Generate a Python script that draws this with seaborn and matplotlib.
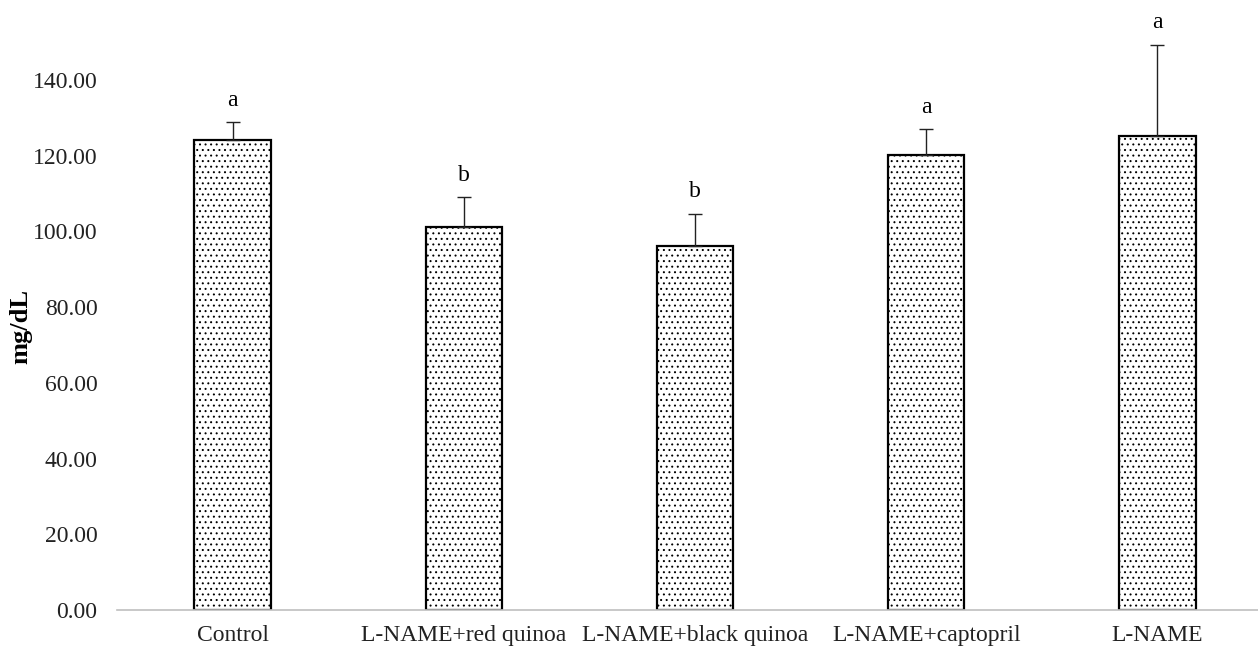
import matplotlib
matplotlib.use("Agg")
import matplotlib.pyplot as plt
import seaborn as sns
import pandas as pd
import numpy as np

groups = ["Control", "L-NAME+red quinoa", "L-NAME+black quinoa", "L-NAME+captopril", "L-NAME"]
means = [124.0, 101.1, 96.0, 120.2, 125.3]
sds = [4.8, 7.9, 8.7, 6.8, 24.0]
letters = ["a", "b", "b", "a", "a"]
yticks = [0, 20, 40, 60, 80, 100, 120, 140]

sns.set_theme(style="white")
plt.rcParams['font.family'] = ['Liberation Serif', 'DejaVu Serif']
plt.rcParams['hatch.linewidth'] = 0.7
plt.rcParams['hatch.color'] = '#222222'

fig = plt.figure(figsize=(12.58, 6.61), dpi=100)
ax = fig.add_axes([117/1258, 51/661, (1273-117)/1258, (610-6)/661])

df = pd.DataFrame({"group": groups, "mean": means})
sns.barplot(data=df, x="group", y="mean", order=groups, color="white",
            edgecolor="black", linewidth=1.6, width=0.33, errorbar=None, ax=ax,
            saturation=1)
for p in ax.patches:
    p.set_hatch('...')
    p.set_facecolor('white')

x = np.arange(len(groups))
ax.errorbar(x, means, yerr=[np.zeros(len(sds)), sds], fmt='none',
            ecolor='#222222', elinewidth=1.0, capsize=5, capthick=1.0, zorder=1)
for xi, m, s, l in zip(x, means, sds, letters):
    ax.text(xi, m + s + 3.0, l, ha='center', va='bottom', fontsize=17, color='black')

ax.set_ylim(0, 159.5)
ax.set_xlim(-0.5, 4.5)
ax.set_yticks(yticks)
ax.set_yticklabels([f"{v:.2f}" for v in yticks])
ax.tick_params(axis='y', length=0, pad=14, labelsize=17, colors='#222222')
ax.tick_params(axis='x', length=0, pad=11, labelsize=17, colors='#222222')
ax.set_xlabel("")
ax.set_ylabel("mg/dL", fontsize=19, fontweight='bold', color='black')
ax.yaxis.set_label_coords(-0.0735, 0.470)
for s in ['left', 'right', 'top']:
    ax.spines[s].set_visible(False)
ax.spines['bottom'].set_color('#bfbfbf')
ax.spines['bottom'].set_linewidth(1.2)
ax.grid(False)

fig.savefig("out.png", dpi=100)
